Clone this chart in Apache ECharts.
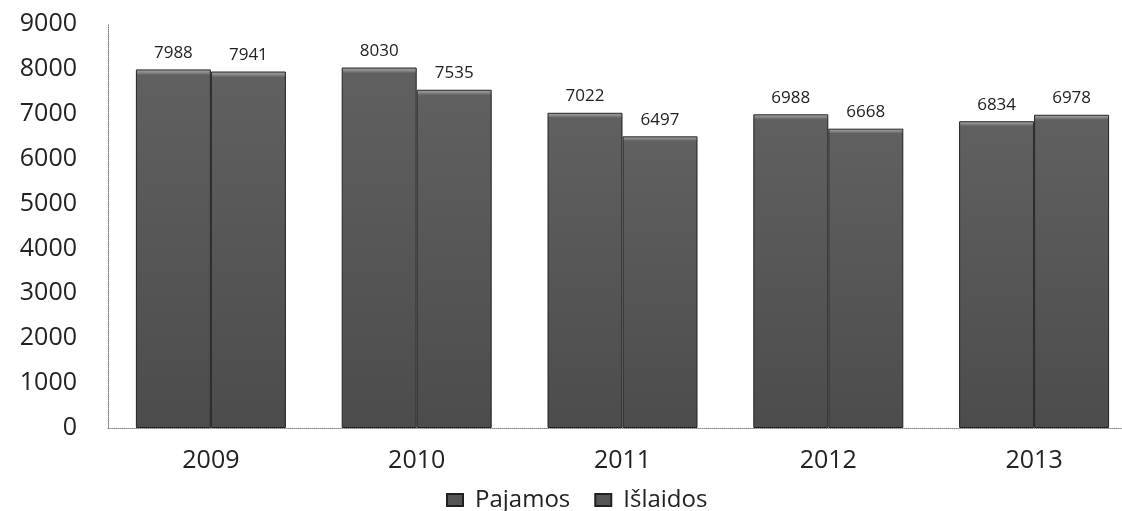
<!DOCTYPE html>
<html><head><meta charset="utf-8">
<script src="https://cdn.jsdelivr.net/npm/echarts@6/dist/echarts.min.js"></script>
<style>html,body{margin:0;padding:0;background:#fff}#c{width:1122px;height:511px}</style>
</head><body><div id="c"></div>
<script>
const categories = ['2009','2010','2011','2012','2013'];
const pajamos = [7988, 8030, 7022, 6988, 6834];
const islaidos = [7941, 7535, 6497, 6668, 6978];
const yTicks = [0,1000,2000,3000,4000,5000,6000,7000,8000,9000];

const barColor = {
  type: 'linear', x: 0, y: 0, x2: 0, y2: 1,
  colorStops: [
    {offset: 0, color: '#a8a8a8'},
    {offset: 0.008, color: '#8a8a8a'},
    {offset: 0.016, color: '#606060'},
    {offset: 1, color: '#4c4c4c'}
  ]
};
const chart = echarts.init(document.getElementById('c'));
const font = 'Open Sans';
function mk(name, data) {
  return {
    name, type: 'bar', data, barWidth: 75, barGap: '0%',
    itemStyle: {color: barColor, borderColor: '#222', borderWidth: 1},
    label: {show: true, position: 'top', distance: 8, color: '#222', fontSize: 17, fontFamily: font}
  };
}
chart.setOption({
  animation: false,
  textStyle: {fontFamily: font},
  grid: {left: 108, width: 1029, top: 24, bottom: 83, outerBoundsMode: 'none', containLabel: false},
  legend: {
    top: 483, left: 441, itemWidth: 16, itemHeight: 12, itemGap: 24,
    icon: 'rect',
    textStyle: {fontSize: 24, color: '#222', fontFamily: font, padding: [0, 0, 0, 7]},
    data: [{name: 'Pajamos', itemStyle: {color: '#555', borderColor: '#222'}}, {name: 'Išlaidos', itemStyle: {color: '#555', borderColor: '#222'}}]
  },
  xAxis: {
    type: 'category', data: categories,
    axisLine: {lineStyle: {color: '#888', type: 'dotted', width: 1}},
    axisTick: {show: false},
    axisLabel: {fontSize: 25, color: '#222', margin: 20, fontFamily: font}
  },
  yAxis: {
    type: 'value', min: 0, max: 9000, interval: 1000,
    axisLine: {show: true, lineStyle: {color: '#777', type: 'dotted', width: 1}},
    axisTick: {show: false},
    splitLine: {show: false},
    axisLabel: {fontSize: 25, color: '#222', margin: 31, fontFamily: font,
      formatter: v => yTicks.includes(v) ? String(v) : ''}
  },
  series: [mk('Pajamos', pajamos), mk('Išlaidos', islaidos)]
});
</script></body></html>
